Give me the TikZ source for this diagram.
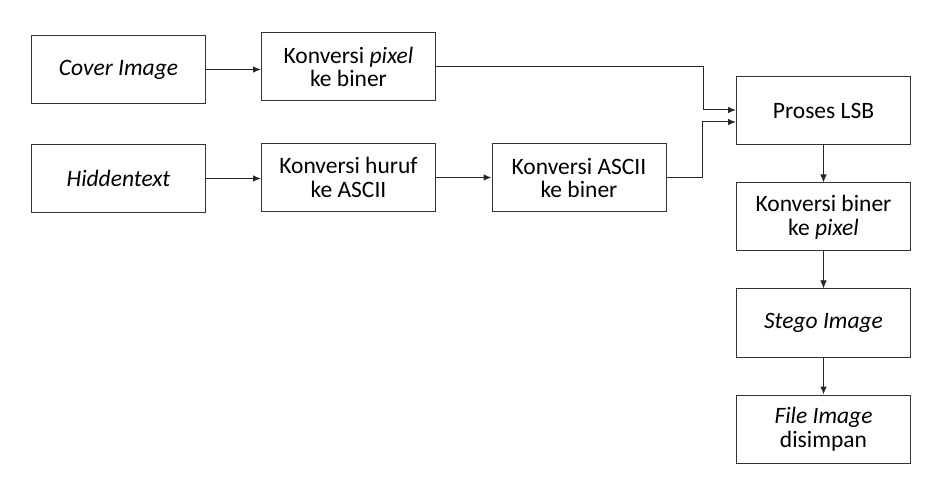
\documentclass[tikz,border=0pt]{standalone}
\usepackage{fontspec}
\setmainfont{Carlito}
\usetikzlibrary{arrows.meta}
\begin{document}
\begin{tikzpicture}[x=1bp,y=-1bp,
  box/.style={draw=black!80,line width=1bp,minimum width=174bp,minimum height=68bp,inner sep=0pt,align=center,font=\fontsize{23.5bp}{23.5bp}\selectfont},
  conn/.style={draw=black!85,line width=1bp,-{Latex[length=8bp,width=6.5bp]}}]
\useasboundingbox (0,0) rectangle (950,492);
\node[box] (cover) at (118.5,69.5) {\itshape Cover Image};
\node[box] (kpix) at (348.5,67) {Konversi \textit{pixel}\\ke biner};
\node[box] (hidden) at (118.5,178.5) {\itshape Hiddentext};
\node[box] (khuruf) at (348.5,177.5) {Konversi huruf\\ke ASCII};
\node[box] (kascii) at (579,178) {Konversi ASCII\\ke biner};
\node[box] (lsb) at (823.5,110.5) {Proses LSB};
\node[box] (kbiner) at (823.5,217) {Konversi biner\\ke \textit{pixel}};
\node[box] (stego) at (823.5,323) {\itshape Stego Image};
\node[box] (file) at (823.5,429) {\textit{File Image}\\disimpan};
\coordinate (lsbin1) at ([yshift=0.5bp]lsb.west);
\coordinate (lsbin2) at ([yshift=-11.5bp]lsb.west);
\coordinate (bend1) at (703,67);
\coordinate (bend2) at (702,178);
\draw[conn] (cover.east) -- (cover.east -| kpix.west);
\draw[conn] (hidden.east) -- (hidden.east -| khuruf.west);
\draw[conn] (khuruf.east) -- (khuruf.east -| kascii.west);
\draw[conn] (kpix.east) -- (bend1) |- (lsbin1);
\draw[conn] (kascii.east) -- (bend2) |- (lsbin2);
\draw[conn] (lsb) -- (kbiner);
\draw[conn] (kbiner) -- (stego);
\draw[conn] (stego) -- (file);
\end{tikzpicture}
\end{document}
